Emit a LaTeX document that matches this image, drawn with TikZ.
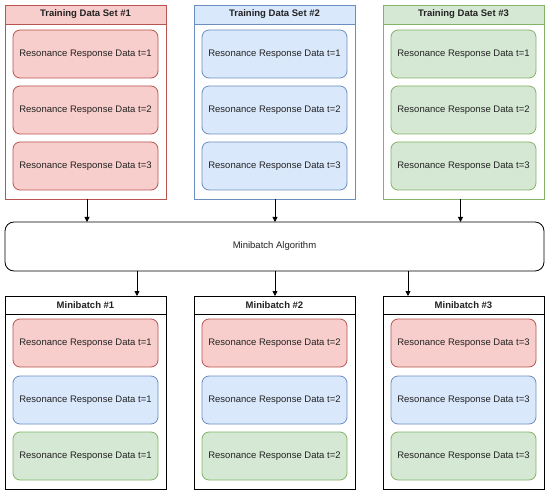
\documentclass[tikz,border=0pt]{standalone}
\usepackage{fontspec}
\setmainfont{Liberation Sans}
\usetikzlibrary{arrows.meta}
\definecolor{rF}{HTML}{F8CECC}\definecolor{rS}{HTML}{B85450}
\definecolor{bF}{HTML}{DAE8FC}\definecolor{bS}{HTML}{6C8EBF}
\definecolor{gF}{HTML}{D5E8D4}\definecolor{gS}{HTML}{82B366}
\definecolor{txt}{HTML}{222222}
\tikzset{
  every node/.style={font=\fontsize{9.5}{11}\selectfont, text=txt, inner sep=0pt, outer sep=0pt},
  cont/.style={draw, line width=0.8pt, minimum width=161pt, minimum height=194pt},
  hdr/.style={draw, line width=0.8pt, minimum width=161pt, minimum height=19pt, font=\fontsize{9.5}{11}\selectfont\bfseries},
  item/.style={draw, line width=0.8pt, rounded corners=7pt, minimum width=145pt, minimum height=48pt},
  redb/.style={draw=rS, fill=rF},
  blueb/.style={draw=bS, fill=bF},
  greenb/.style={draw=gS, fill=gF},
  whiteb/.style={draw=black, fill=white},
  arr/.style={draw=black, line width=0.8pt, -{Triangle[length=5pt,width=5pt]}},
}
\begin{document}
\begin{tikzpicture}[x=1pt,y=-1pt]
\useasboundingbox (0,0) rectangle (550,495);
% training data sets
\node[cont, redb, fill=white] (c1) at (85.5,102) {};
\node[hdr, redb, anchor=north] (h1) at (c1.north) {Training Data Set \#1};
\node[item, redb] (c1a) at (85.5,54) {Resonance Response Data t=1};
\node[item, redb] (c1b) at (85.5,110) {Resonance Response Data t=2};
\node[item, redb] (c1c) at (85.5,166) {Resonance Response Data t=3};

\node[cont, blueb, fill=white] (c2) at (274.5,102) {};
\node[hdr, blueb, anchor=north] (h2) at (c2.north) {Training Data Set \#2};
\node[item, blueb] (c2a) at (274.5,54) {Resonance Response Data t=1};
\node[item, blueb] (c2b) at (274.5,110) {Resonance Response Data t=2};
\node[item, blueb] (c2c) at (274.5,166) {Resonance Response Data t=3};

\node[cont, greenb, fill=white] (c3) at (463.5,102) {};
\node[hdr, greenb, anchor=north] (h3) at (c3.north) {Training Data Set \#3};
\node[item, greenb] (c3a) at (463.5,54) {Resonance Response Data t=1};
\node[item, greenb] (c3b) at (463.5,110) {Resonance Response Data t=2};
\node[item, greenb] (c3c) at (463.5,166) {Resonance Response Data t=3};

% algorithm
\node[draw=black, fill=white, line width=0.8pt, rounded corners=9pt, minimum width=539pt, minimum height=49pt] (algo) at (274.5,246.5) {Minibatch Algorithm};

% minibatches
\node[cont, whiteb, minimum height=193pt] (m1) at (85.5,392.5) {};
\node[hdr, whiteb, minimum height=18pt, anchor=north] (mh1) at (m1.north) {Minibatch \#1};
\node[item, redb] (m1a) at (85.5,343) {Resonance Response Data t=1};
\node[item, blueb] (m1b) at (85.5,400) {Resonance Response Data t=1};
\node[item, greenb] (m1c) at (85.5,456) {Resonance Response Data t=1};

\node[cont, whiteb, minimum height=193pt] (m2) at (274.5,392.5) {};
\node[hdr, whiteb, minimum height=18pt, anchor=north] (mh2) at (m2.north) {Minibatch \#2};
\node[item, redb] (m2a) at (274.5,343) {Resonance Response Data t=2};
\node[item, blueb] (m2b) at (274.5,400) {Resonance Response Data t=2};
\node[item, greenb] (m2c) at (274.5,456) {Resonance Response Data t=2};

\node[cont, whiteb, minimum height=193pt] (m3) at (463.5,392.5) {};
\node[hdr, whiteb, minimum height=18pt, anchor=north] (mh3) at (m3.north) {Minibatch \#3};
\node[item, redb] (m3a) at (463.5,343) {Resonance Response Data t=3};
\node[item, blueb] (m3b) at (463.5,400) {Resonance Response Data t=3};
\node[item, greenb] (m3c) at (463.5,456) {Resonance Response Data t=3};

% arrows
\draw[arr] ([xshift=1.5pt]c1.south) -- ([xshift=1.5pt]c1.south |- algo.north);
\draw[arr] ([xshift=0.5pt]c2.south) -- ([xshift=0.5pt]c2.south |- algo.north);
\draw[arr] ([xshift=-3pt]c3.south) -- ([xshift=-3pt]c3.south |- algo.north);
\draw[arr] ([xshift=51.5pt]mh1.north |- algo.south) -- ([xshift=51.5pt]mh1.north);
\draw[arr] ([xshift=0.5pt]mh2.north |- algo.south) -- ([xshift=0.5pt]mh2.north);
\draw[arr] ([xshift=-55.5pt]mh3.north |- algo.south) -- ([xshift=-55.5pt]mh3.north);
\end{tikzpicture}
\end{document}
